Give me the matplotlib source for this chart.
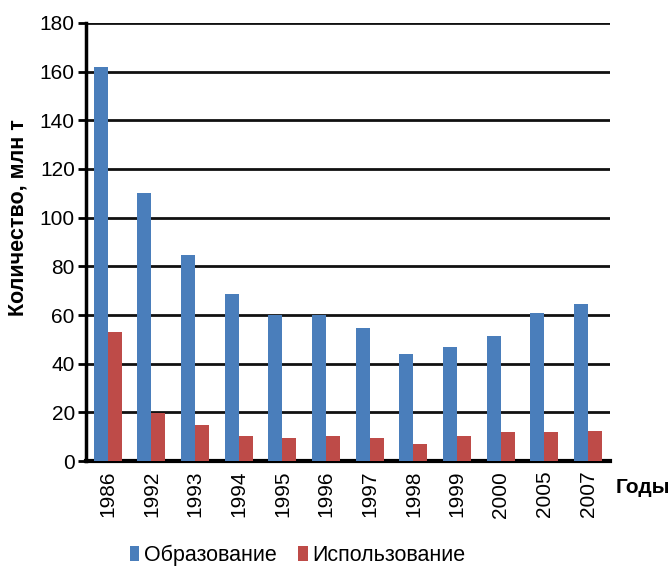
import numpy as np
import matplotlib
matplotlib.use("Agg")
import matplotlib.pyplot as plt

plt.rcParams['font.family'] = ['Liberation Sans', 'DejaVu Sans']

years = ['1986', '1992', '1993', '1994', '1995', '1996', '1997', '1998', '1999', '2000', '2005', '2007']
formed = [162, 110, 84.5, 68.5, 60, 60, 54.8, 44, 47, 51.5, 61, 64.5]
used = [53, 19.7, 14.7, 10.4, 9.4, 10.4, 9.5, 7, 10.4, 12, 12, 12.5]

blue = '#4a7ebb'
red = '#be4b48'

fig = plt.figure(figsize=(6.71, 5.70), dpi=100)
ax = fig.add_axes([0.128, 0.191, 0.781, 0.769])

x = np.arange(len(years))
w = 0.32
ax.bar(x - w / 2, formed, w, color=blue, label='Образование', zorder=3)
ax.bar(x + w / 2, used, w, color=red, label='Использование', zorder=3)

ax.set_xlim(-0.5, len(years) - 0.5)
ax.set_ylim(0, 180)
ax.set_yticks(np.arange(0, 181, 20))
ax.yaxis.grid(True, color='#111111', linewidth=2, zorder=0)
ax.set_axisbelow(True)

for s in ['top', 'right']:
    ax.spines[s].set_visible(False)
ax.spines['left'].set_linewidth(2.5)
ax.spines['bottom'].set_linewidth(3)

ax.set_xticks(x)
ax.set_xticklabels(years, rotation=90, fontsize=15)
ax.tick_params(axis='x', length=0, pad=7)
ax.tick_params(axis='y', labelsize=15, length=6, width=2, pad=2)

fig.text(0.027, 0.619, 'Количество, млн т', fontsize=15.5, fontweight='bold',
         rotation=90, ha='center', va='center')
fig.text(0.918, 0.145, 'Годы', fontsize=15, fontweight='bold', ha='left', va='center')

fig.legend(*ax.get_legend_handles_labels(), loc='center', bbox_to_anchor=(0.443, 0.026),
           ncol=2, frameon=False, fontsize=15.5, handlelength=0.45, handleheight=0.7,
           handletextpad=0.2, columnspacing=1.0, borderpad=0)

fig.savefig('out.png', dpi=100)
